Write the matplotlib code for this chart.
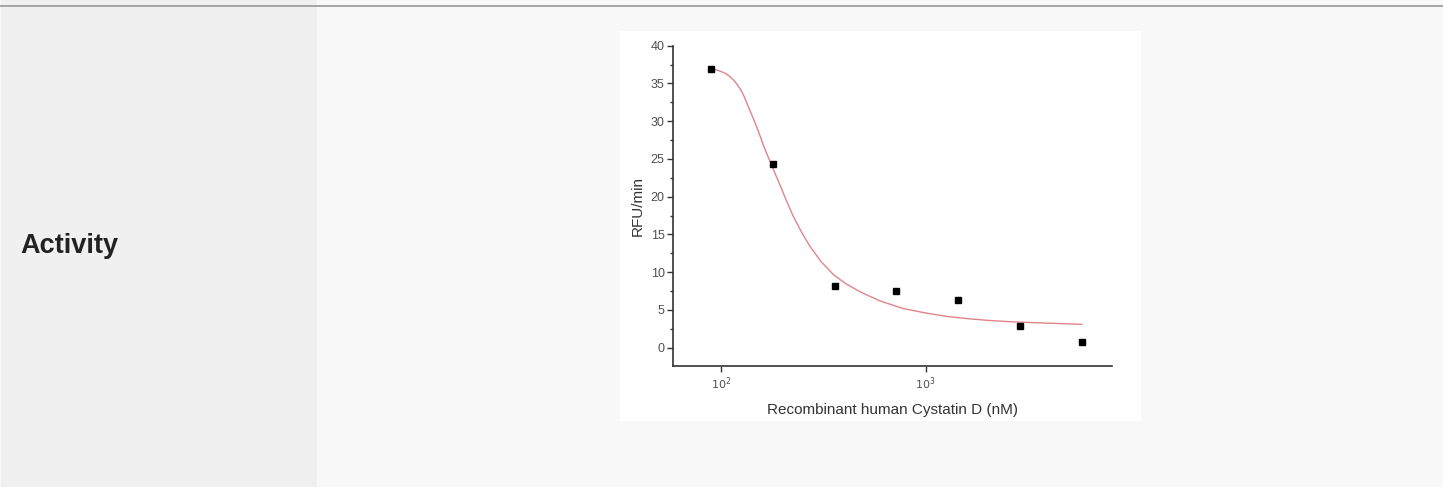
import matplotlib
matplotlib.use('Agg')
import matplotlib.pyplot as plt
from matplotlib.patches import Rectangle
from matplotlib.ticker import MultipleLocator, NullLocator, FixedLocator


# measured points (nM, RFU/min)
conc = [90, 180, 360, 720, 1440, 2880, 5760]
rfu = [36.9, 24.3, 8.2, 7.5, 6.3, 2.9, 0.7]

# fitted curve
fit_conc = [90, 95, 100, 106, 111, 116, 120, 125, 129, 136, 144, 153,
            161, 169, 177, 186, 195, 209, 226, 248, 273, 309, 354, 407,
            479, 598, 774, 1000, 1265, 1600, 2061, 2700, 3548, 4500, 5768]
fit_rfu = [36.9, 36.8, 36.6, 36.3, 35.9, 35.4, 34.9, 34.2, 33.5, 32.0,
           30.4, 28.6, 26.9, 25.5, 24.2, 22.8, 21.5, 19.5, 17.4, 15.3,
           13.4, 11.4, 9.7, 8.5, 7.4, 6.2, 5.2, 4.6, 4.15, 3.85, 3.6,
           3.42, 3.3, 3.2, 3.1]

row_label = 'Activity'
x_label = 'Recombinant human Cystatin D (nM)'
y_label = 'RFU/min'

W, H = 1443, 487
fig = plt.figure(figsize=(W / 100, H / 100), dpi=100, facecolor='#f8f8f8')


def px_rect(x0, y0, x1, y1, color):
    fig.patches.append(Rectangle((x0 / W, 1 - y1 / H), (x1 - x0) / W,
                                 (y1 - y0) / H, transform=fig.transFigure,
                                 facecolor=color, edgecolor='none', zorder=-10))


px_rect(1, 0, 317, H, '#f0f0f0')
px_rect(0, 5, W, 7, '#a6a6a6')
px_rect(620, 31, 1141, 421, 'white')

fig.text(20 / W, 1 - 246 / H, row_label, fontsize=19.5, fontweight='bold',
         family='Liberation Sans', color='#222222', va='center', ha='left')

ax = fig.add_axes([673 / W, 1 - 366 / H, (1112 - 673) / W, (366 - 45.7) / H])
ax.set_zorder(5)
ax.set_facecolor('white')

ax.plot(fit_conc, fit_rfu, color='#e0848a', lw=1.0, zorder=2,
        solid_joinstyle='round')
ax.plot(conc, rfu, 's', color='black', markersize=5, zorder=3)

ax.set_xscale('log')
ax.set_xlim(58.5, 8110)
ax.set_ylim(-2.42, 40)

ax.xaxis.set_major_locator(FixedLocator([100, 1000]))
ax.xaxis.set_minor_locator(NullLocator())
ax.set_xticklabels([r'$10^2$', r'$10^3$'])
ax.yaxis.set_major_locator(MultipleLocator(5))
ax.yaxis.set_minor_locator(MultipleLocator(2.5))

for s in ['top', 'right']:
    ax.spines[s].set_visible(False)
for s in ['left', 'bottom']:
    ax.spines[s].set_color('#333333')
    ax.spines[s].set_linewidth(1.2)

ax.tick_params(axis='y', which='major', length=4, width=1, color='#333333',
               labelsize=9, labelcolor='#505050', pad=2)
ax.tick_params(axis='y', which='minor', length=2.5, width=1, color='#333333')
ax.tick_params(axis='x', which='major', length=4, width=1, color='#333333',
               labelsize=8, labelcolor='#505050', pad=3)
for lab in ax.get_yticklabels() + ax.get_xticklabels():
    lab.set_family('Liberation Sans')

ax.set_xlabel(x_label, fontsize=11, family='Liberation Sans', color='#333333',
              labelpad=8)
ax.set_ylabel(y_label, fontsize=11, family='Liberation Sans', color='#333333',
              labelpad=4)

fig.savefig('out.png', dpi=100, facecolor=fig.get_facecolor())
